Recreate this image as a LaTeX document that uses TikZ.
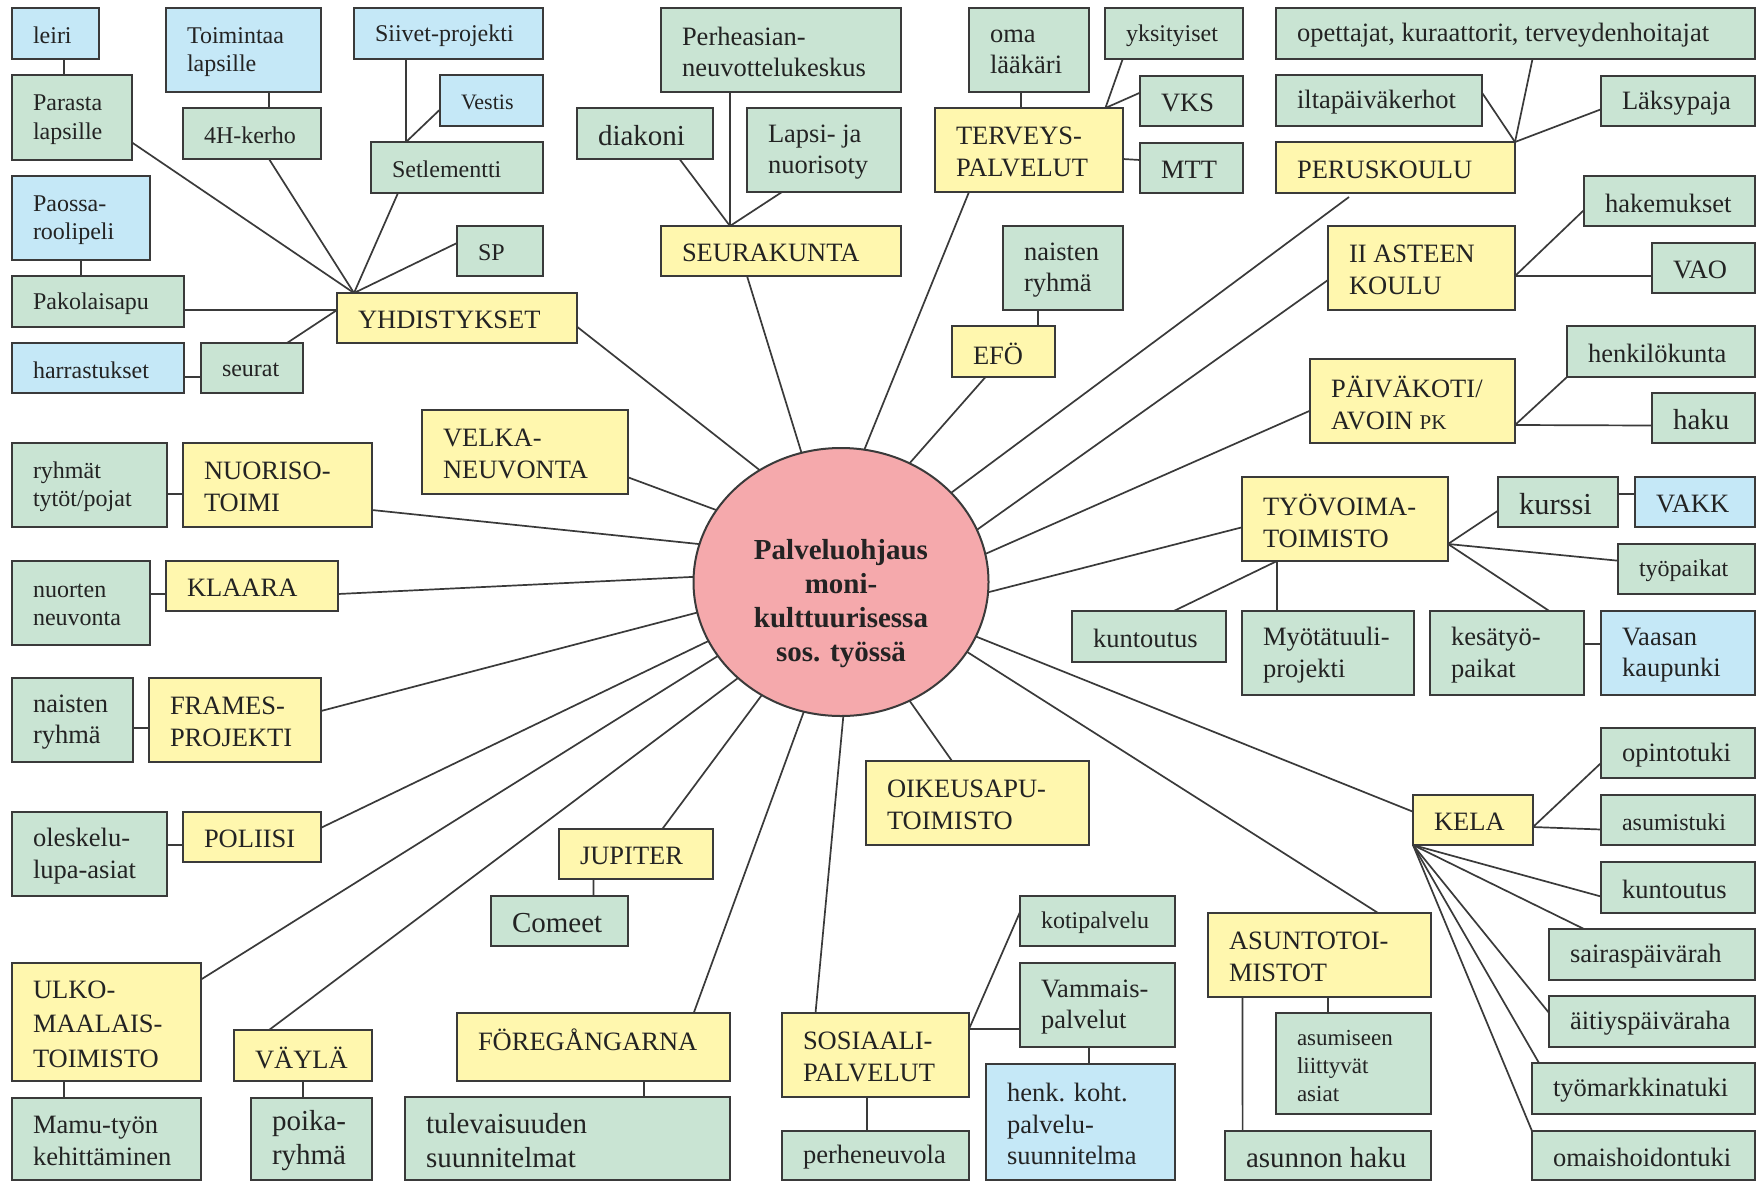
\documentclass[tikz,border=0pt]{standalone}
\usepackage{fontspec}
\setmainfont{Liberation Serif}
\usetikzlibrary{shapes.geometric}
\definecolor{cG}{RGB}{201,228,211}
\definecolor{cB}{RGB}{197,232,247}
\definecolor{cY}{RGB}{255,247,174}
\definecolor{cP}{RGB}{245,169,172}
\definecolor{cL}{RGB}{58,58,58}
\definecolor{cT}{RGB}{35,35,35}
\newcommand\nbx[8]{%
  \node[boxsty, fill=#6, minimum width={(#4-#2)*1pt}, minimum height={(#5-#3)*1pt}, anchor=north west] (#1) at (#2,#3) {};
  \node[txt, #7, anchor=west] (#1-lbl) at ([xshift=21pt,yshift=-2pt]#1.west) {#8};
}
\begin{document}
\begin{tikzpicture}[x=1pt,y=-1pt,
 boxsty/.style={draw=cL, line width=2pt, inner sep=0pt, outer sep=0pt, rectangle},
 txt/.style={inner sep=0pt, outer sep=0pt, align=left, text=cT},
 fs/.style={font=\fontsize{24}{28.5}\selectfont},
 fm/.style={font=\fontsize{26.5}{31.5}\selectfont},
 fl/.style={font=\fontsize{29}{34}\selectfont},
 conn/.style={draw=cL, line width=1.7pt},
]
\useasboundingbox (0,0) rectangle (1760,1181);
\clip (0,0) rectangle (1760,1181);
\fill[white] (0,0) rectangle (1760,1181);

% centre
\node[ellipse, draw=cL, line width=2pt, fill=cP, minimum width=295pt, minimum height=268pt, inner sep=0pt, outer sep=0pt] (c) at (841,582) {};
\node[txt, align=center, font=\bfseries\fontsize{29}{34}\selectfont] (ctext) at (841,604) {Palveluohjaus\\moni-\\kulttuurisessa\\sos. työssä};

% YHDISTYKSET cluster
\nbx{leiri}{12}{8}{99}{59}{cB}{fs}{leiri}
\nbx{parasta}{12}{75}{132}{160}{cG}{fs}{Parasta\\lapsille}
\nbx{toim}{166}{8}{321}{92}{cB}{fs}{Toimintaa\\lapsille}
\nbx{hfour}{183}{108}{321}{159}{cG}{fs}{4H-kerho}
\nbx{siivet}{354}{8}{543}{59}{cB}{fs}{Siivet-projekti}
\nbx{vestis}{440}{75}{543}{126}{cB}{font=\fontsize{22}{26}\selectfont}{Vestis}
\nbx{setl}{371}{142}{543}{193}{cG}{fs}{Setlementti}
\nbx{paossa}{12}{176}{150}{260}{cB}{fs}{Paossa-\\roolipeli}
\nbx{sp}{457}{226}{543}{276}{cG}{fs}{SP}
\nbx{pako}{12}{276}{184}{327}{cG}{fs}{Pakolaisapu}
\nbx{yhd}{337}{293}{577}{343}{cY}{fm}{YHDISTYKSET}
\nbx{harr}{12}{343}{184}{393}{cB}{fs}{harrastukset}
\nbx{seuratbox}{201}{343}{303}{393}{cG}{fs}{seurat}

% SEURAKUNTA
\nbx{perhe}{661}{8}{901}{92}{cG}{fm}{Perheasian-\\neuvottelukeskus}
\nbx{diakoni}{577}{108}{713}{159}{cG}{fl}{diakoni}
\nbx{lapsi}{747}{108}{901}{192}{cG}{fm}{Lapsi- ja\\nuorisoty}
\nbx{seura}{661}{226}{901}{276}{cY}{fm}{SEURAKUNTA}

% TERVEYS
\nbx{oma}{969}{8}{1089}{92}{cG}{fm}{oma\\lääkäri}
\nbx{yksit}{1105}{8}{1243}{59}{cG}{fs}{yksityiset}
\nbx{vks}{1140}{76}{1243}{126}{cG}{fm}{VKS}
\nbx{terv}{935}{108}{1123}{192}{cY}{fm}{TERVEYS-\\PALVELUT}
\nbx{mtt}{1140}{143}{1243}{193}{cG}{fm}{MTT}

% EFO
\nbx{naistA}{1003}{226}{1123}{310}{cG}{fm}{naisten\\ryhmä}
\nbx{efo}{952}{326}{1055}{377}{cY}{fm}{EFÖ}

% PERUSKOULU
\nbx{opett}{1276}{8}{1755}{59}{cG}{fm}{opettajat, kuraattorit, terveydenhoitajat}
\nbx{ilta}{1276}{75}{1482}{126}{cG}{fm}{iltapäiväkerhot}
\nbx{laksy}{1601}{76}{1755}{126}{cG}{fm}{Läksypaja}
\nbx{perus}{1276}{142}{1515}{193}{cY}{fm}{PERUSKOULU}

% II ASTEEN
\nbx{hakem}{1584}{176}{1755}{226}{cG}{fm}{hakemukset}
\nbx{asteen}{1328}{226}{1515}{310}{cY}{fm}{II ASTEEN\\KOULU}
\nbx{vao}{1652}{243}{1755}{293}{cG}{fm}{VAO}

% PAIVAKOTI
\nbx{henk}{1567}{326}{1755}{377}{cG}{fm}{henkilökunta}
\nbx{paiv}{1310}{359}{1515}{443}{cY}{fm}{PÄIVÄKOTI/\\AVOIN {\fontsize{21}{24}\selectfont PK}}
\nbx{haku}{1652}{393}{1755}{443}{cG}{fl}{haku}

% TYOVOIMA
\nbx{tyov}{1242}{477}{1448}{561}{cY}{fm}{TYÖVOIMA-\\TOIMISTO}
\nbx{kurssi}{1498}{477}{1618}{527}{cG}{font=\fontsize{30.5}{36}\selectfont}{kurssi}
\nbx{vakk}{1635}{477}{1755}{527}{cB}{fm}{VAKK}
\nbx{tyopaik}{1618}{544}{1755}{594}{cG}{fs}{työpaikat}
\nbx{kuntA}{1072}{611}{1226}{662}{cG}{fm}{kuntoutus}
\nbx{myota}{1242}{611}{1414}{695}{cG}{fm}{Myötätuuli-\\projekti}
\nbx{kesa}{1430}{611}{1584}{695}{cG}{fm}{kesätyö-\\paikat}
\nbx{vaasa}{1601}{611}{1755}{695}{cB}{fm}{Vaasan\\kaupunki}

% KELA
\nbx{opint}{1601}{728}{1755}{778}{cG}{fm}{opintotuki}
\nbx{kela}{1413}{795}{1533}{845}{cY}{fm}{KELA}
\nbx{asumt}{1601}{795}{1755}{845}{cG}{fs}{asumistuki}
\nbx{kuntB}{1601}{862}{1755}{913}{cG}{fm}{kuntoutus}
\nbx{sairas}{1549}{929}{1755}{980}{cG}{fm}{sairaspäivärah}
\nbx{aitiys}{1549}{996}{1755}{1047}{cG}{fm}{äitiyspäiväraha}
\nbx{tyomark}{1532}{1063}{1755}{1114}{cG}{fm}{työmarkkinatuki}
\nbx{omais}{1532}{1131}{1755}{1180}{cG}{fm}{omaishoidontuki}

% ASUNTOTOIMISTOT
\nbx{asunto}{1208}{913}{1431}{997}{cY}{fm}{ASUNTOTOI-\\MISTOT}
\nbx{asumis}{1276}{1013}{1431}{1114}{cG}{font=\fontsize{23}{28}\selectfont}{asumiseen\\liittyvät\\asiat}
\nbx{ahaku}{1225}{1131}{1431}{1180}{cG}{fl}{asunnon haku}

% OIKEUSAPU
\nbx{oikeus}{866}{761}{1089}{845}{cY}{fm}{OIKEUSAPU-\\TOIMISTO}

% SOSIAALI
\nbx{kotip}{1020}{896}{1175}{946}{cG}{fs}{kotipalvelu}
\nbx{vamm}{1020}{963}{1175}{1047}{cG}{fm}{Vammais-\\palvelut}
\nbx{sosi}{782}{1013}{969}{1097}{cY}{fm}{SOSIAALI-\\PALVELUT}
\nbx{henkk}{986}{1064}{1175}{1180}{cB}{fm}{henk. koht.\\palvelu-\\suunnitelma}
\nbx{perhen}{782}{1131}{969}{1180}{cG}{fm}{perheneuvola}

% JUPITER / FOREGANGARNA
\nbx{jupiter}{559}{829}{713}{879}{cY}{fm}{JUPITER}
\nbx{comeet}{491}{896}{628}{946}{cG}{fl}{Comeet}
\nbx{foreg}{457}{1013}{730}{1081}{cY}{fm, yshift=9pt}{FÖREGÅNGARNA}
\nbx{tulev}{405}{1097}{730}{1180}{cG}{fl}{tulevaisuuden\\suunnitelmat}

% left side
\nbx{ryhm}{12}{443}{167}{527}{cG}{fs}{ryhmät\\tytöt/pojat}
\nbx{nuor}{183}{443}{372}{527}{cY}{fm}{NUORISO-\\TOIMI}
\nbx{velka}{422}{410}{628}{494}{cY}{fm}{VELKA-\\NEUVONTA}
\nbx{nuort}{12}{561}{150}{645}{cG}{fs}{nuorten\\neuvonta}
\nbx{klaara}{166}{561}{338}{611}{cY}{fm}{KLAARA}
\nbx{naistB}{12}{678}{133}{762}{cG}{fm}{naisten\\ryhmä}
\nbx{frames}{149}{678}{321}{762}{cY}{fm}{FRAMES-\\PROJEKTI}
\nbx{olesk}{12}{812}{167}{896}{cG}{fm}{oleskelu-\\lupa-asiat}
\nbx{poliisi}{183}{812}{321}{862}{cY}{fm}{POLIISI}
\nbx{ulko}{12}{963}{201}{1081}{cY}{font=\fontsize{26.5}{34.5}\selectfont}{ULKO-\\MAALAIS-\\TOIMISTO}
\nbx{vayla}{234}{1030}{372}{1081}{cY}{fm}{VÄYLÄ}
\nbx{mamu}{12}{1098}{201}{1180}{cG}{fm}{Mamu-työn\\kehittäminen}
\nbx{poika}{251}{1098}{372}{1180}{cG}{fl}{poika-\\ryhmä}

% ---------- connectors ----------
% YHDISTYKSET
\draw[conn] ([xshift=8.5pt]leiri.south) -- ([xshift=-8pt]parasta.north);
\draw[conn] ([xshift=25.5pt]toim.south) -- ([xshift=17pt]hfour.north);
\draw[conn] ([xshift=-42.5pt]siivet.south) -- ([xshift=-51pt]setl.north);
\draw[conn] ([yshift=-9pt]vestis.west) -- ([xshift=-51pt]setl.north);
\draw[conn] (paossa.south) -- ([xshift=-17pt]pako.north);
\draw[conn] ([yshift=-25pt]parasta.east) -- ([xshift=17pt]yhd.north west);
\draw[conn] ([xshift=17pt]hfour.south) -- ([xshift=17pt]yhd.north west);
\draw[conn] ([xshift=-59pt]setl.south) -- ([xshift=17pt]yhd.north west);
\draw[conn] ([yshift=8pt]sp.west) -- ([xshift=17pt]yhd.north west);
\draw[conn] ([yshift=-8.5pt]pako.east) -- ([yshift=8pt]yhd.west);
\draw[conn] ([xshift=35pt]seuratbox.north) -- ([yshift=8pt]yhd.west);
\draw[conn] ([yshift=-8.7pt]harr.east) -- ([yshift=-8.7pt]seuratbox.west);
\draw[conn] ([yshift=-8.7pt]yhd.east) -- (c.126);
% SEURAKUNTA
\draw[conn] ([xshift=69pt]perhe.south west) -- ([xshift=69pt]seura.north west);
\draw[conn] ([xshift=34.5pt]diakoni.south) -- ([xshift=69pt]seura.north west);
\draw[conn] ([xshift=-42pt]lapsi.south) -- ([xshift=69pt]seura.north west);
\draw[conn] ([xshift=-34pt]seura.south) -- (c.107);
% TERVEYS
\draw[conn] ([xshift=-8pt]oma.south) -- ([xshift=-8pt]terv.north);
\draw[conn] ([xshift=-51.3pt]yksit.south) -- ([xshift=-17.6pt]terv.north east);
\draw[conn] ([yshift=8.3pt]vks.west) -- ([xshift=-17.6pt]terv.north east);
\draw[conn] ([yshift=-9pt]terv.east) -- ([yshift=8pt]mtt.west);
\draw[conn] ([xshift=-60pt]terv.south) -- (c.80.6);
% EFO
\draw[conn] ([xshift=-25.3pt]naistA.south) -- ([xshift=34.2pt]efo.north);
\draw[conn] ([xshift=-18pt]efo.south) -- (c.60);
% PERUSKOULU
\draw[conn] ([xshift=17pt]opett.south) -- (perus.north east);
\draw[conn] ([yshift=7.8pt]ilta.east) -- (perus.north east);
\draw[conn] ([yshift=-8.3pt]laksy.west) -- (perus.north east);
\draw[conn] ([xshift=-46.5pt,yshift=-4pt]perus.south) -- (c.39);
% II ASTEEN
\draw[conn] ([yshift=-9pt]hakem.west) -- ([yshift=-8pt]asteen.east);
\draw[conn] ([yshift=-8pt]vao.west) -- ([yshift=-8pt]asteen.east);
\draw[conn] ([yshift=-12pt]asteen.west) -- (c.21);
% PAIVAKOTI
\draw[conn] (henk.south west) -- ([yshift=-24pt]paiv.east);
\draw[conn] ([yshift=-7.5pt]haku.west) -- ([yshift=-24pt]paiv.east);
\draw[conn] ([yshift=-9.7pt]paiv.west) -- (c.11);
% TYOVOIMA
\draw[conn] ([yshift=-8.7pt]kurssi.west) -- ([yshift=-25pt]tyov.east);
\draw[conn] ([yshift=8pt]kurssi.east) -- ([yshift=8pt]vakk.west);
\draw[conn] ([yshift=8.3pt]tyopaik.west) -- ([yshift=-25pt]tyov.east);
\draw[conn] ([xshift=42.3pt]kesa.north) -- ([yshift=-25pt]tyov.east);
\draw[conn] ([xshift=24.8pt]kuntA.north) -- ([xshift=35pt]tyov.south west);
\draw[conn] ([xshift=35pt]tyov.south west) -- ([xshift=35pt]myota.north west);
\draw[conn] ([yshift=8.7pt]kesa.east) -- ([yshift=8.7pt]vaasa.west);
\draw[conn] ([yshift=-8.3pt]tyov.west) -- (c.-4.9);
% KELA
\draw[conn] ([yshift=-10pt]opint.west) -- ([yshift=-7pt]kela.east);
\draw[conn] ([yshift=-9.5pt]asumt.west) -- ([yshift=-7pt]kela.east);
\draw[conn] ([yshift=-9pt]kuntB.west) -- (kela.south west);
\draw[conn] ([xshift=35pt]sairas.north west) -- (kela.south west);
\draw[conn] ([yshift=8.6pt]aitiys.west) -- (kela.south west);
\draw[conn] ([xshift=7pt]tyomark.north west) -- (kela.south west);
\draw[conn] (omais.north west) -- (kela.south west);
\draw[conn] ([yshift=8.3pt]kela.west) -- (c.-22.8);
% ASUNTO
\draw[conn] ([xshift=58.6pt]asunto.north) -- (c.-29.9);
\draw[conn] ([xshift=8.5pt]asunto.south) -- ([xshift=-25.5pt]asumis.north);
\draw[conn] ([xshift=-77pt]asunto.south) -- ([xshift=-85.4pt]ahaku.north);
% OIKEUSAPU
\draw[conn] ([xshift=-25.5pt]oikeus.north) -- (c.-60.5);
% SOSIAALI
\draw[conn] ([xshift=-60pt]sosi.north) -- (c.-89.5);
\draw[conn] ([yshift=9pt]kotip.west) -- ([yshift=26pt]sosi.east);
\draw[conn] ([yshift=-24pt]vamm.west) -- ([yshift=26pt]sosi.east);
\draw[conn] ([xshift=-8.5pt]vamm.south) -- ([xshift=8.5pt]henkk.north);
\draw[conn] ([xshift=-8.5pt]sosi.south) -- ([xshift=-8.5pt]perhen.north);
% JUPITER / FOREG
\draw[conn] ([xshift=26.3pt]jupiter.north) -- (c.-125.7);
\draw[conn] ([xshift=-42.6pt]jupiter.south) -- ([xshift=34pt]comeet.north);
\draw[conn] ([xshift=100.2pt]foreg.north) -- (c.-106.6);
\draw[conn] ([xshift=50.8pt]foreg.south) -- ([xshift=76.8pt]tulev.north);
% left side
\draw[conn] ([yshift=-9pt]ryhm.east) -- ([yshift=-9pt]nuor.west);
\draw[conn] ([yshift=-25pt]nuor.east) -- (c.165.2);
\draw[conn] ([yshift=-25.3pt]velka.east) -- (c.150.6);
\draw[conn] ([yshift=9pt]nuort.east) -- ([yshift=-8pt]klaara.west);
\draw[conn] ([yshift=-8pt]klaara.east) -- (c.178.2);
\draw[conn] ([yshift=-7.7pt]naistB.east) -- ([yshift=-7.7pt]frames.west);
\draw[conn] ([yshift=9pt]frames.east) -- (c.-168.9);
\draw[conn] ([yshift=8.8pt]olesk.east) -- ([yshift=-8.2pt]poliisi.west);
\draw[conn] ([yshift=9.2pt]poliisi.east) -- (c.-156.8);
\draw[conn] ([yshift=42.5pt]ulko.east) -- (c.-149.6);
\draw[conn] ([xshift=-34pt]vayla.north) -- (c.-137.5);
\draw[conn] ([xshift=-42.5pt]ulko.south) -- ([xshift=-42.5pt]mamu.north);
\draw[conn] (vayla.south) -- ([xshift=-8.5pt]poika.north);
\end{tikzpicture}
\end{document}
